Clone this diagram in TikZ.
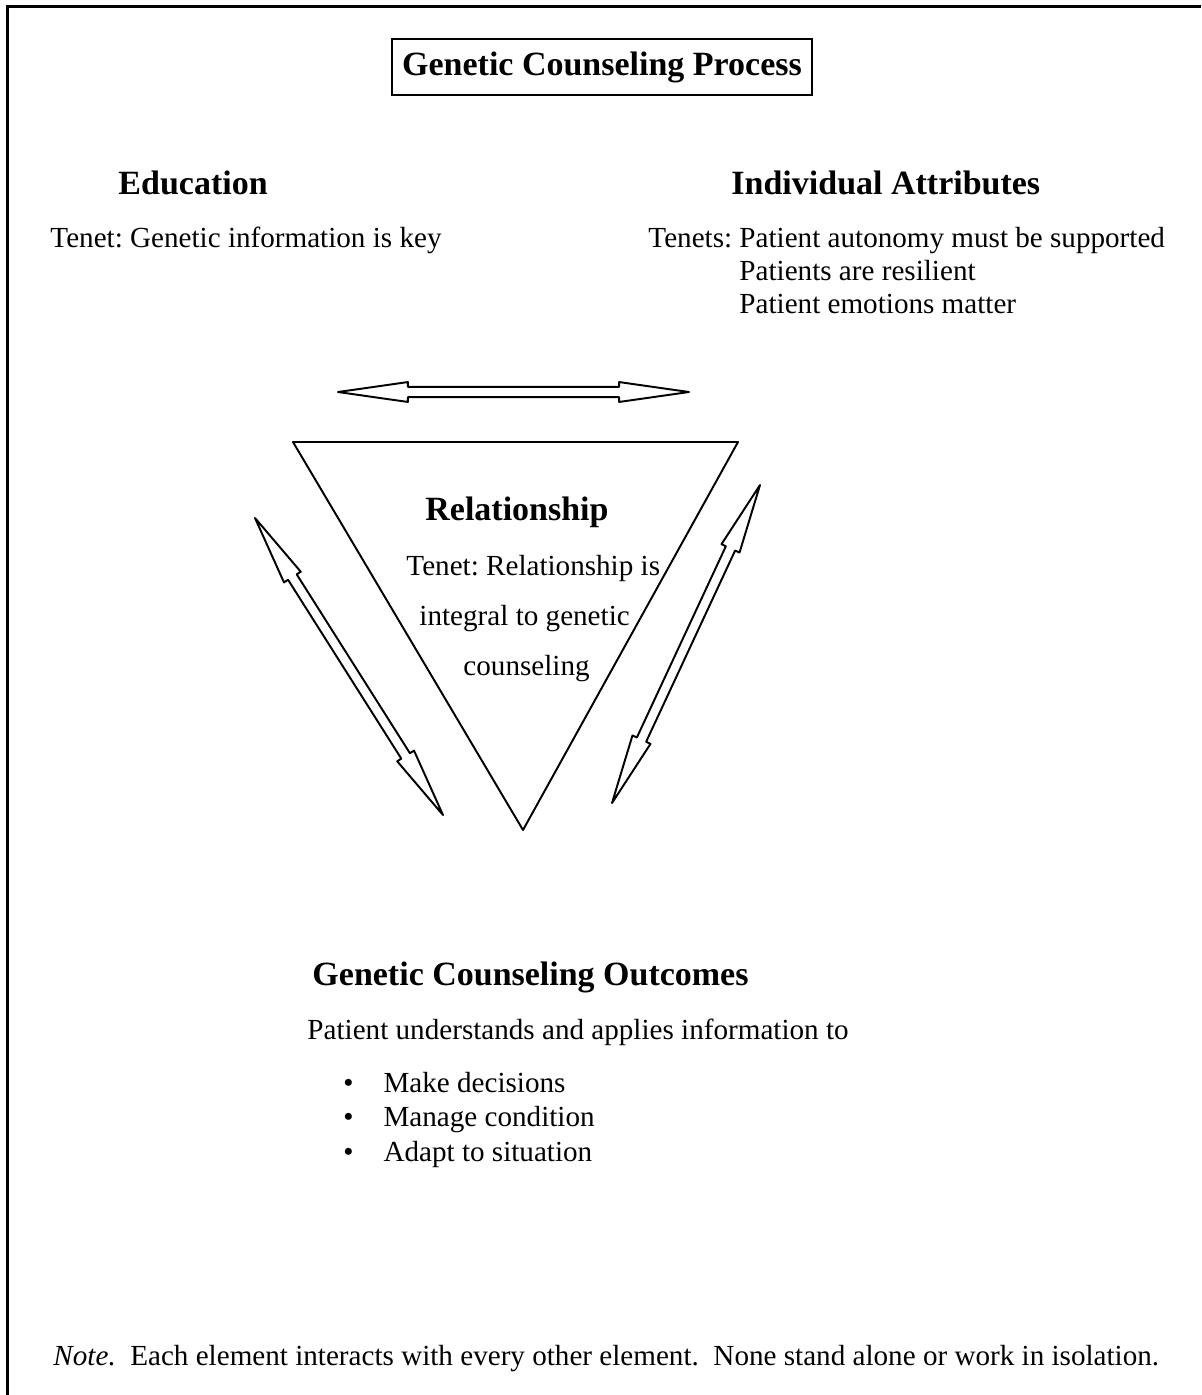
\documentclass[tikz,border=0pt]{standalone}
\usepackage{fontspec}
\setmainfont{Liberation Serif}
\usetikzlibrary{calc}
\frenchspacing

% open block arrow with a head at both ends
\newcommand{\openarrow}[2]{%
  \path ($(#1)!28.8pt!(#2)$) coordinate (ha) ($(#2)!28.8pt!(#1)$) coordinate (hb);
  \draw[outline] (#1) -- ($(ha)!4.1pt!90:(#2)$) -- ($(ha)!2.1pt!90:(#2)$)
    -- ($(hb)!2.1pt!-90:(#1)$) -- ($(hb)!4.1pt!-90:(#1)$) -- (#2)
    -- ($(hb)!4.1pt!90:(#1)$) -- ($(hb)!2.1pt!90:(#1)$)
    -- ($(ha)!2.1pt!-90:(#2)$) -- ($(ha)!4.1pt!-90:(#2)$) -- cycle;}

\tikzset{
  headtext/.style={font=\fontsize{14}{16}\selectfont\bfseries, inner sep=0pt, anchor=base west},
  bodytext/.style={font=\fontsize{12}{13.6}\selectfont, inner sep=0pt, anchor=base west},
  outline/.style={line width=0.8pt, line join=round}
}

\begin{document}
\begin{tikzpicture}[x=0.412pt,y=-0.412pt]
\useasboundingbox (0,0) rectangle (1201,1395);
\draw[line width=1.3pt] (7.5,1395) -- (7.5,6.5) -- (1201,6.5);

\node[draw, line width=1pt, minimum width=173pt, minimum height=23pt,
  font=\fontsize{14}{16}\selectfont\bfseries] (title) at (602,67) {Genetic Counseling Process};

% education
\node[headtext] (edu) at (118,194) {Education};
\node[bodytext] (eduTenet) at (50,247) {Tenet: Genetic information is key};

% individual attributes
\node[headtext] (attr) at (731,194) {Individual Attributes};
\node[bodytext] (attrTenet) at (648,247) {\begin{tabular}[t]{@{}l@{ }l@{}}
  Tenets:& Patient autonomy must be supported\\
  & Patients are resilient\\
  & Patient emotions matter
\end{tabular}};

% relationship
\coordinate (triL) at (293,442);
\coordinate (triR) at (738,442);
\coordinate (triB) at (523,830);
\draw[outline] (triL) -- (triR) -- (triB) -- cycle;
\node[headtext, anchor=base] (rel) at (517,520) {Relationship};
\node[bodytext] (relTenet) at (406,575) {Tenet: Relationship is};
\node[bodytext] (relTenet2) at (419,625) {integral to genetic};
\node[bodytext] (relTenet3) at (463,675) {counseling};

% arrows
\coordinate (eduEnd) at (338,392);
\coordinate (attrEnd) at (689,392);
\coordinate (eduLow) at (255,518);
\coordinate (relLeft) at (443,815);
\coordinate (attrLow) at (760,485);
\coordinate (relRight) at (612,803);
\openarrow{eduEnd}{attrEnd}
\openarrow{eduLow}{relLeft}
\openarrow{attrLow}{relRight}

% outcomes
\node[headtext] (outc) at (312,985) {Genetic Counseling Outcomes};
\node[bodytext] (outcText) at (307,1039) {Patient understands and applies information to};
\node[bodytext, font=\fontsize{12}{14.4}\selectfont] (outcList) at (343,1092) {\begin{tabular}[t]{@{}l@{\hspace{12.3pt}}l@{}}
  \textbullet & Make decisions\\
  \textbullet & Manage condition\\
  \textbullet & Adapt to situation
\end{tabular}};

\node[bodytext] (note) at (53,1365) {\textit{Note.}~ Each element interacts with every other element.~ None stand alone or work in isolation.};
\end{tikzpicture}
\end{document}
